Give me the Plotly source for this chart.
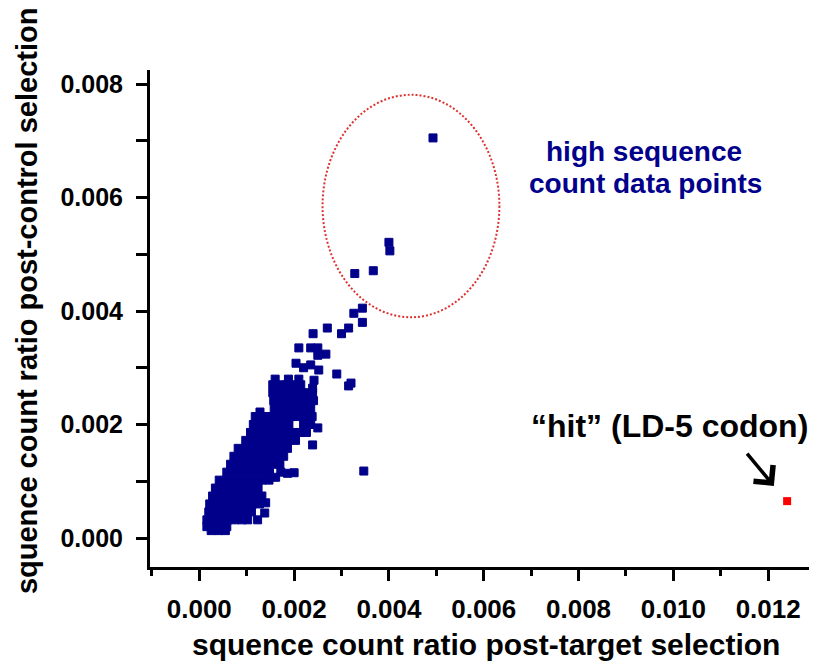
import plotly.graph_objects as go

# ---------------- data ----------------
# sequence count ratio post-target selection (x) / post-control selection (y)
target_ratio = [
    0.00025, 0.00040, 0.00055,
    0.00016, 0.00030, 0.00045, 0.00058,
    0.00016, 0.00030, 0.00045, 0.00060, 0.00075, 0.00090, 0.00102, 0.00123,
    0.00020, 0.00035, 0.00050, 0.00065, 0.00080, 0.00095, 0.00110, 0.00138,
    0.00022, 0.00037, 0.00052, 0.00067, 0.00082, 0.00097, 0.00112, 0.00127, 0.00140,
    0.00028, 0.00043, 0.00058, 0.00073, 0.00088, 0.00103, 0.00118, 0.00132,
    0.00034, 0.00049, 0.00064, 0.00079, 0.00094, 0.00109, 0.00124,
    0.00042, 0.00057, 0.00072, 0.00087, 0.00102, 0.00117, 0.00132, 0.00147, 0.00161,
    0.00058, 0.00073, 0.00088, 0.00103, 0.00118, 0.00133, 0.00148, 0.00172, 0.00186, 0.00200,
    0.00066, 0.00081, 0.00096, 0.00111, 0.00126, 0.00141, 0.00156, 0.00170,
    0.00073, 0.00088, 0.00103, 0.00118, 0.00133, 0.00148, 0.00163, 0.00178,
    0.00082, 0.00097, 0.00112, 0.00127, 0.00142, 0.00157, 0.00172, 0.00186,
    0.00098, 0.00113, 0.00128, 0.00143, 0.00158, 0.00173, 0.00188, 0.00203,
    0.00108, 0.00123, 0.00138, 0.00153, 0.00168, 0.00183, 0.00198, 0.00213, 0.00226,
    0.00114, 0.00129, 0.00144, 0.00159, 0.00174, 0.00189, 0.00220, 0.00235,
    0.00118, 0.00133, 0.00148, 0.00163, 0.00178, 0.00193, 0.00208, 0.00223, 0.00238,
    0.00128, 0.00158, 0.00173, 0.00188, 0.00203, 0.00218, 0.00235,
    0.00157, 0.00172, 0.00187, 0.00202, 0.00217, 0.00232, 0.00241,
    0.00155, 0.00170, 0.00185, 0.00200, 0.00215, 0.00228, 0.00239,
    0.00155, 0.00170, 0.00185, 0.00200, 0.00214,
    0.00160, 0.00188, 0.00210, 0.00242,
    # sparse points
    0.00239, 0.00250, 0.00347, 0.00204, 0.00220, 0.00235, 0.00252, 0.00250,
    0.00210, 0.00235, 0.00250, 0.00267, 0.00240, 0.00270, 0.00290, 0.00320,
    0.00315, 0.00300, 0.00315, 0.00326, 0.00344, 0.00344, 0.00328, 0.00367,
    0.00400, 0.00402, 0.00493, 0.00239,
]
control_ratio = [
    0.00013, 0.00013, 0.00013,
    0.00020, 0.00020, 0.00020, 0.00020,
    0.00032, 0.00032, 0.00032, 0.00032, 0.00032, 0.00032, 0.00032, 0.00032,
    0.00046, 0.00046, 0.00046, 0.00046, 0.00046, 0.00046, 0.00046, 0.00044,
    0.00060, 0.00060, 0.00060, 0.00060, 0.00060, 0.00060, 0.00060, 0.00060, 0.00062,
    0.00074, 0.00074, 0.00074, 0.00074, 0.00074, 0.00074, 0.00074, 0.00074,
    0.00088, 0.00088, 0.00088, 0.00088, 0.00088, 0.00088, 0.00088,
    0.00102, 0.00102, 0.00102, 0.00102, 0.00102, 0.00102, 0.00102, 0.00102, 0.00107,
    0.00116, 0.00116, 0.00116, 0.00116, 0.00116, 0.00116, 0.00116, 0.00116, 0.00114, 0.00115,
    0.00130, 0.00130, 0.00130, 0.00130, 0.00130, 0.00130, 0.00130, 0.00130,
    0.00144, 0.00144, 0.00144, 0.00144, 0.00144, 0.00144, 0.00144, 0.00144,
    0.00158, 0.00158, 0.00158, 0.00158, 0.00158, 0.00158, 0.00158, 0.00158,
    0.00172, 0.00172, 0.00172, 0.00172, 0.00172, 0.00172, 0.00172, 0.00172,
    0.00186, 0.00186, 0.00186, 0.00186, 0.00186, 0.00186, 0.00186, 0.00186, 0.00186,
    0.00200, 0.00200, 0.00200, 0.00200, 0.00200, 0.00200, 0.00200, 0.00200,
    0.00214, 0.00214, 0.00214, 0.00214, 0.00214, 0.00214, 0.00214, 0.00214, 0.00214,
    0.00222, 0.00228, 0.00228, 0.00228, 0.00228, 0.00228, 0.00228,
    0.00242, 0.00242, 0.00242, 0.00242, 0.00242, 0.00242, 0.00242,
    0.00256, 0.00256, 0.00256, 0.00256, 0.00256, 0.00256, 0.00256,
    0.00270, 0.00270, 0.00270, 0.00270, 0.00270,
    0.00280, 0.00280, 0.00280, 0.00278,
    # sparse points
    0.00164, 0.00194, 0.00118, 0.00308, 0.00300, 0.00305, 0.00296, 0.00322,
    0.00335, 0.00335, 0.00335, 0.00324, 0.00360, 0.00370, 0.00289, 0.00273,
    0.00268, 0.00360, 0.00370, 0.00396, 0.00405, 0.00380, 0.00466, 0.00471,
    0.00521, 0.00506, 0.00705, 0.00264,
]
hit_target = [0.01240]
hit_control = [0.00065]

x_tickvals = [0.000, 0.002, 0.004, 0.006, 0.008, 0.010, 0.012]
y_tickvals = [0.000, 0.002, 0.004, 0.006, 0.008]

x_title = "squence count ratio post-target selection"
y_title = "squence count ratio post-control selection"
cluster_label_1 = "high sequence"
cluster_label_2 = "count data points"
hit_label = "\u201chit\u201d (LD-5 codon)"

# ---------------- figure ----------------
NAVY = "#00008B"
fig = go.Figure()
fig.add_trace(go.Scatter(
    x=target_ratio, y=control_ratio, mode="markers",
    marker=dict(symbol="square", size=8, color=NAVY, line=dict(width=1, color=NAVY)),
    showlegend=False, hoverinfo="skip"))
fig.add_trace(go.Scatter(
    x=hit_target, y=hit_control, mode="markers",
    marker=dict(symbol="square", size=8, color="#FF0000", line=dict(width=0)),
    showlegend=False, hoverinfo="skip"))

bold = "Liberation Sans, Arial, sans-serif"

fig.update_layout(
    width=809, height=654,
    margin=dict(l=142, r=0, t=62, b=95, autoexpand=False),
    paper_bgcolor="white", plot_bgcolor="white",
    xaxis=dict(
        range=[-0.00104, 0.01303], showgrid=False, zeroline=False,
        showline=True, linecolor="black", linewidth=3,
        ticks="outside", ticklen=11, tickwidth=3, tickcolor="black",
        tickvals=x_tickvals, tickformat=".3f",
        tickfont=dict(family=bold, size=26, color="black", weight="bold"),
        ticklabelstandoff=6,
        minor=dict(dtick=0.001, tick0=0, ticks="outside", ticklen=6,
                   tickwidth=3, tickcolor="black", showgrid=False),
    ),
    yaxis=dict(
        range=[-0.000511, 0.008247], showgrid=False, zeroline=False,
        showline=True, linecolor="black", linewidth=3,
        ticks="outside", ticklen=11, tickwidth=3, tickcolor="black",
        tickvals=y_tickvals, tickformat=".3f",
        tickfont=dict(family=bold, size=25, color="black", weight="bold"),
        ticklabelstandoff=8,
        minor=dict(dtick=0.001, tick0=0, ticks="outside", ticklen=11,
                   tickwidth=3, tickcolor="black", showgrid=False),
    ),
    shapes=[dict(
        type="circle", xref="x", yref="y",
        x0=0.00260, x1=0.00633, y0=0.00389, y1=0.00781,
        line=dict(color="#DC3232", width=2, dash="2px,2px"),
    )],
    annotations=[
        dict(text=cluster_label_1, xref="paper", yref="paper", x=0.7406, y=0.8356,
             xanchor="center", yanchor="middle", showarrow=False,
             font=dict(family=bold, size=28, color=NAVY, weight="bold")),
        dict(text=cluster_label_2, xref="paper", yref="paper", x=0.7429, y=0.772,
             xanchor="center", yanchor="middle", showarrow=False,
             font=dict(family=bold, size=28, color=NAVY, weight="bold")),
        dict(text=hit_label, xref="paper", yref="paper", x=0.7796, y=0.2827,
             xanchor="center", yanchor="middle", showarrow=False,
             font=dict(family=bold, size=32, color="black", weight="bold")),
        dict(text="", xref="x", yref="y", x=0.01212, y=0.000916,
             ax=-28, ay=-34, showarrow=True, arrowhead=4, arrowsize=1.4,
             arrowwidth=3.5, arrowcolor="black"),
        dict(text=x_title, xref="paper", yref="paper", x=0.504, y=-0.155,
             xanchor="center", yanchor="middle", showarrow=False,
             font=dict(family=bold, size=30, color="black", weight="bold")),
        dict(text=y_title, xref="paper", yref="paper", x=-0.1844, y=0.535,
             xanchor="center", yanchor="middle", showarrow=False, textangle=-90,
             font=dict(family=bold, size=29, color="black", weight="bold")),
    ],
)

fig.write_html("out.html")
